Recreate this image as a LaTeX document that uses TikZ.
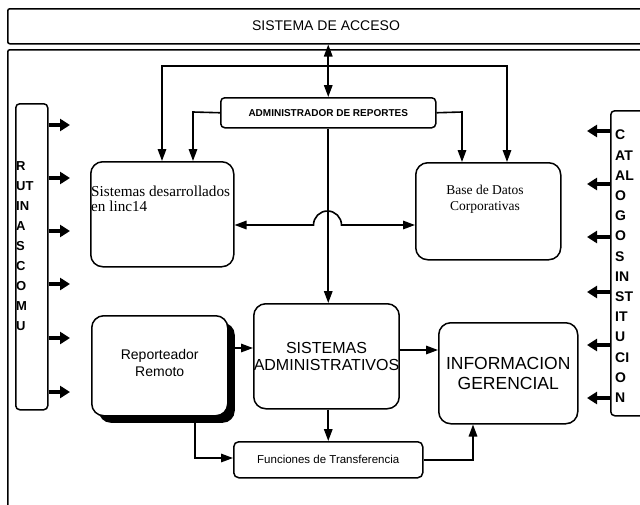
\documentclass[tikz,border=0pt]{standalone}
\usepackage{fontspec}
\setmainfont{Liberation Serif}
\setsansfont{Liberation Sans}
\usetikzlibrary{arrows.meta,shadows}
\tikzset{
  box/.style={draw, line width=1.5pt, rounded corners=12pt, inner sep=0pt, anchor=north west, fill=white},
  smallbox/.style={box, rounded corners=4pt},
  conn/.style={line width=1.6pt},
  arr/.style={conn, -{Triangle[length=12pt,width=8.5pt]}},
  darr/.style={conn, {Triangle[length=12pt,width=8.5pt]}-{Triangle[length=12pt,width=8.5pt]}},
  fatr/.style={line width=4pt, -{Triangle[length=10pt,width=12pt]}},
}
\begin{document}
\begin{tikzpicture}[x=1pt,y=-1pt]
\useasboundingbox (0,0) rectangle (640,504);
\fill[white] (0,0) rectangle (640,504);
\clip (0,0) rectangle (640,504);

% frames
\node[box, rounded corners=2pt, minimum width=640pt, minimum height=35pt] (title) at (7,8) {};
\node[font=\sffamily\fontsize{14}{15}\selectfont] (titletext) at (326,26) {SISTEMA DE ACCESO};
\node[box, rounded corners=2pt, minimum width=700pt, minimum height=500pt, fill=none] (frame) at (7,49) {};

% boxes
\node[smallbox, minimum width=215pt, minimum height=30pt,
      font=\sffamily\bfseries\fontsize{10}{12}\selectfont] (admin) at (220,97) {ADMINISTRADOR DE REPORTES};
\node[box, minimum width=143pt, minimum height=105pt] (sd) at (90,161) {};
\node[anchor=north west, inner sep=0pt, align=left, font=\fontsize{15.2}{15}\selectfont] (sdtext) at (91,186) {Sistemas desarrollados\\en linc14};
\node[box, minimum width=145pt, minimum height=97pt] (bd) at (415,162) {};
\node[align=center, inner sep=0pt, font=\fontsize{13.5}{15.5}\selectfont] (bdtext) at (485,199) {Base de Datos\\Corporativas};

\node[box, minimum width=144pt, minimum height=105pt, align=center,
      font=\sffamily\fontsize{16}{16.5}\selectfont] (sa) at (253,303) {SISTEMAS\\ADMINISTRATIVOS};
\node[box, minimum width=136pt, minimum height=100pt, align=center,
      drop shadow={shadow xshift=7pt, shadow yshift=-7pt, fill=black, opacity=1},
      font=\sffamily\fontsize{14}{17}\selectfont, text depth=6pt] (rr) at (91,315) {Reporteador\\Remoto};
\node[box, minimum width=139pt, minimum height=101pt, align=center,
      font=\sffamily\fontsize{17.5}{20}\selectfont] (ig) at (438,322) {INFORMACION\\GERENCIAL};
\node[box, rounded corners=5pt, minimum width=189pt, minimum height=36pt,
      font=\sffamily\fontsize{11.5}{12}\selectfont] (ft) at (233,441) {Funciones de Transferencia};

% side boxes
\node[smallbox, minimum width=32pt, minimum height=306pt] (ru) at (15,103) {};
\node[anchor=north west, inner sep=0pt, align=left,
      font=\sffamily\bfseries\fontsize{13}{20}\selectfont] (rutext) at (16,161) {R\\UT\\IN\\A\\S\\C\\O\\M\\U};
\node[smallbox, minimum width=60pt, minimum height=305pt] (ca) at (610,110) {};
\node[anchor=north west, inner sep=0pt, align=left,
      font=\sffamily\bfseries\fontsize{14}{20.2}\selectfont] (catext) at (615,130) {C\\AT\\AL\\O\\G\\O\\S\\IN\\ST\\IT\\U\\CI\\O\\N};

% coordinates
\coordinate (t1) at (162,66);
\coordinate (t2) at (507,66);
\coordinate (t3) at (193,112);
\coordinate (t4) at (462,112);
\coordinate (h) at (0,225);
\coordinate (y348) at (0,348);
\coordinate (y350) at (0,350);
\coordinate (c1) at (195,458);
\coordinate (c2) at (473,458);

% connectors
\draw[darr] (admin.north |- title.south) -- (admin.north);
\draw[darr] (sd.north -| t1) -- (t1) -- (t2) -- (t2 |- bd.north);
\draw[arr] (admin.west) -- (t3) -- (t3 |- sd.north);
\draw[arr] (admin.east) -- (t4) -- (t4 |- bd.north);
\draw[arr] (admin.south) -- (admin.south |- sa.north);
\draw[darr] (h -| sd.east) -- (313.5,225) arc[start angle=180, end angle=0, radius=14pt] -- (h -| bd.west);
\draw[arr] (rr.east |- y348) -- (sa.west |- y348);
\draw[arr] (sa.east |- y350) -- (ig.west |- y350);
\draw[arr] (ft.north |- sa.south) -- (ft.north);
\draw[arr] (rr.south -| c1) -- (c1) -- (c1 -| ft.west);
\draw[arr] (ft.east) -- (ft.east -| c2) -- (c2 |- ig.south);

% side arrows
\foreach \yy [count=\i] in {125,178,231,284,338,392} {
  \coordinate (rp\i) at (70,\yy);
  \draw[fatr] (rp\i -| ru.east) -- (rp\i);
}
\foreach \yy [count=\i] in {131,184,237,292,345,398} {
  \coordinate (cp\i) at (587,\yy);
  \draw[fatr] (cp\i -| ca.west) -- (cp\i);
}
\end{tikzpicture}
\end{document}
